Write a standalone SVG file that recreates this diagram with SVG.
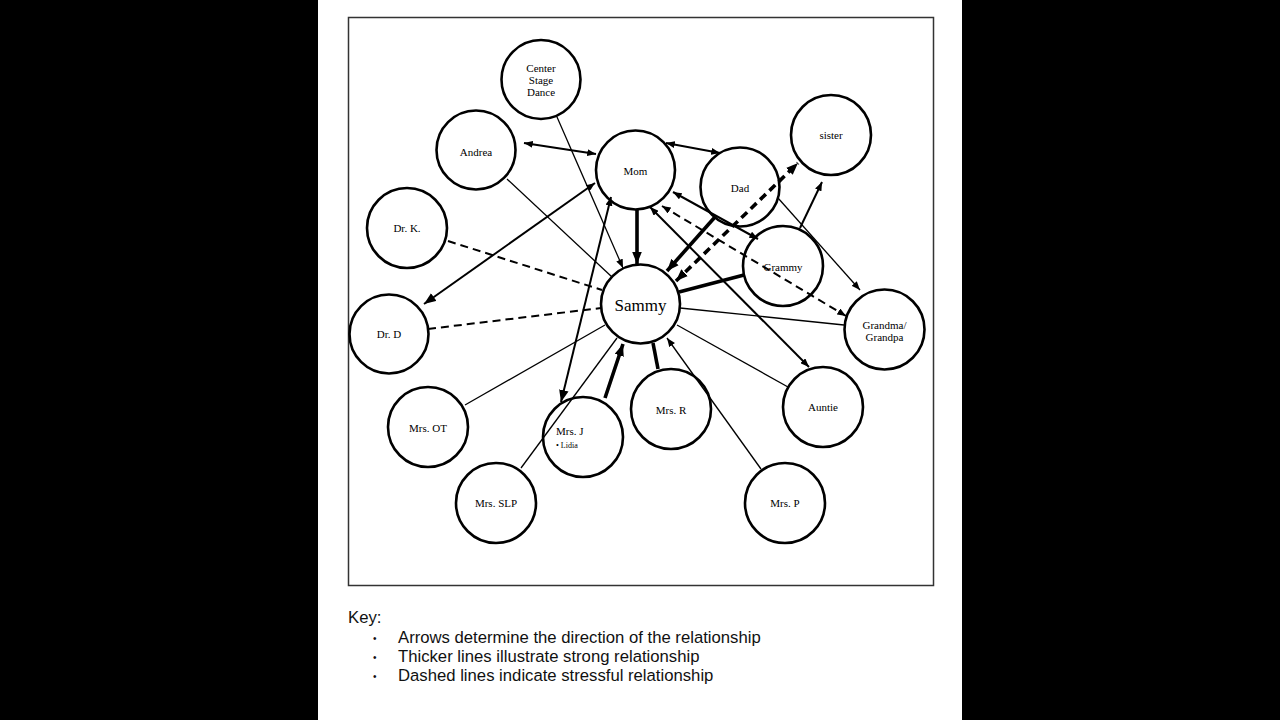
<svg xmlns="http://www.w3.org/2000/svg" width="1280" height="720" viewBox="0 0 1280 720">
<style>
.node circle{fill:none;stroke:#000;stroke-width:2.6}
.lbl{font-family:"Liberation Serif","DejaVu Serif",serif;font-size:11px;fill:#000;text-anchor:middle}
.c line{stroke:#000;fill:none}
.thin{stroke-width:1.3}
.mid{stroke-width:2}
.thick{stroke-width:3.6}
.dash{stroke-dasharray:8 5}
.key{font-family:"Liberation Sans",Arial,sans-serif;font-size:16.7px;fill:#111}
</style>
<defs>
<marker id="a" viewBox="0 0 10 8" refX="10" refY="4" markerWidth="9" markerHeight="7" orient="auto-start-reverse" markerUnits="userSpaceOnUse"><path d="M0,0 L10,4 L0,8 z" fill="#000"/></marker>
<marker id="b" viewBox="0 0 10 8" refX="10" refY="4" markerWidth="12" markerHeight="10" orient="auto-start-reverse" markerUnits="userSpaceOnUse"><path d="M0,0 L10,4 L0,8 z" fill="#000"/></marker>
</defs>
<rect x="0" y="0" width="1280" height="720" fill="#000"/>
<rect x="318" y="0" width="644" height="720" fill="#fff"/>
<rect x="348.5" y="17.5" width="585" height="568" fill="none" stroke="#333" stroke-width="1.5"/>
<g id="connectors" class="c">
<line class="thin" x1="557" y1="117" x2="623" y2="268" marker-end="url(#a)"/>
<line class="mid" x1="524" y1="143" x2="596" y2="154" marker-start="url(#a)" marker-end="url(#a)"/>
<line class="thin" x1="507" y1="179" x2="612" y2="277"/>
<line class="mid" x1="666" y1="143" x2="720" y2="153" marker-start="url(#a)" marker-end="url(#a)"/>
<line class="thick" x1="637" y1="210" x2="637" y2="264" marker-end="url(#b)"/>
<line class="mid" x1="595" y1="183" x2="424" y2="304" stroke-width="2.6" marker-start="url(#a)" marker-end="url(#b)"/>
<line class="mid" x1="611" y1="197" x2="561" y2="402" marker-start="url(#a)" marker-end="url(#b)"/>
<line class="thick" x1="605" y1="398" x2="623" y2="344" marker-end="url(#b)"/>
<line class="thin" x1="521" y1="468" x2="617" y2="338"/>
<line class="thin" x1="465" y1="405" x2="605" y2="325"/>
<line class="mid dash" x1="448" y1="241" x2="602" y2="290" stroke-width="1.7"/>
<line class="mid dash" x1="428" y1="329" x2="601" y2="308" stroke-width="1.7"/>
<line class="thick" x1="658" y1="369" x2="653" y2="343"/>
<line class="thin" x1="761" y1="469" x2="667" y2="338" marker-end="url(#a)"/>
<line class="thin" x1="788" y1="387" x2="677" y2="325"/>
<line class="thin" x1="844" y1="325" x2="680" y2="308"/>
<line class="thick" x1="744" y1="275" x2="679" y2="292"/>
<line class="mid" x1="650" y1="207" x2="809" y2="367" stroke-width="1.6" marker-start="url(#a)" marker-end="url(#a)"/>
<line class="mid" x1="673" y1="192" x2="758" y2="239" marker-start="url(#a)" marker-end="url(#a)"/>
<line class="mid dash" x1="662" y1="206" x2="846" y2="316" marker-start="url(#a)" marker-end="url(#a)"/>
<line class="thick" x1="715" y1="217" x2="667" y2="271" marker-end="url(#b)"/>
<line class="thick dash" x1="676" y1="281" x2="798" y2="163" stroke-width="3" marker-start="url(#b)" marker-end="url(#b)"/>
<line class="mid" x1="800" y1="228" x2="822" y2="182" marker-end="url(#a)"/>
<line class="thin" x1="778" y1="198" x2="860" y2="290" stroke-width="1.6" marker-end="url(#a)"/>
</g>
<g id="center-stage-dance" class="node"><circle cx="541" cy="79.5" r="39.5"/><text class="lbl" x="541" y="72">Center</text><text class="lbl" x="541" y="84">Stage</text><text class="lbl" x="541" y="96">Dance</text></g>
<g id="andrea" class="node"><circle cx="476" cy="150" r="39.5"/><text class="lbl" x="476" y="156">Andrea</text></g>
<g id="mom" class="node"><circle cx="635.5" cy="170" r="39.5"/><text class="lbl" x="635.5" y="175">Mom</text></g>
<g id="dad" class="node"><circle cx="740" cy="187" r="39.5"/><text class="lbl" x="740" y="192">Dad</text></g>
<g id="sister" class="node"><circle cx="831" cy="135" r="40"/><text class="lbl" x="831" y="139">sister</text></g>
<g id="dr-k" class="node"><circle cx="407" cy="228" r="40"/><text class="lbl" x="407" y="232">Dr. K.</text></g>
<g id="dr-d" class="node"><circle cx="389" cy="334" r="39.5"/><text class="lbl" x="389" y="338">Dr. D</text></g>
<g id="sammy" class="node"><circle cx="640.5" cy="304" r="39.5"/><text class="lbl" x="640.5" y="311" style="font-size:17px">Sammy</text></g>
<g id="grammy" class="node"><circle cx="783" cy="266" r="40"/><text class="lbl" x="783" y="271">Grammy</text></g>
<g id="grandma-grandpa" class="node"><circle cx="884.5" cy="329.5" r="40"/><text class="lbl" x="884.5" y="329">Grandma/</text><text class="lbl" x="884.5" y="341">Grandpa</text></g>
<g id="mrs-ot" class="node"><circle cx="428" cy="427" r="40"/><text class="lbl" x="428" y="432">Mrs. OT</text></g>
<g id="mrs-j" class="node"><circle cx="583" cy="437" r="40"/><text class="lbl" x="556" y="435" style="text-anchor:start">Mrs. J</text><text class="lbl" x="556" y="448" style="text-anchor:start;font-size:8px">•  Lidia</text></g>
<g id="mrs-slp" class="node"><circle cx="496" cy="503" r="40"/><text class="lbl" x="496" y="507">Mrs. SLP</text></g>
<g id="mrs-r" class="node"><circle cx="671" cy="409" r="40"/><text class="lbl" x="671" y="414">Mrs. R</text></g>
<g id="auntie" class="node"><circle cx="823" cy="407" r="40"/><text class="lbl" x="823" y="411">Auntie</text></g>
<g id="mrs-p" class="node"><circle cx="785" cy="503" r="40"/><text class="lbl" x="785" y="507">Mrs. P</text></g>
<g id="key">
<text class="key" x="348" y="623">Key:</text>
<text class="key" x="373" y="642" style="font-size:10px">•</text>
<text class="key" x="398" y="643">Arrows determine the direction of the relationship</text>
<text class="key" x="373" y="661" style="font-size:10px">•</text>
<text class="key" x="398" y="662">Thicker lines illustrate strong relationship</text>
<text class="key" x="373" y="680" style="font-size:10px">•</text>
<text class="key" x="398" y="681">Dashed lines indicate stressful relationship</text>
</g>
</svg>
